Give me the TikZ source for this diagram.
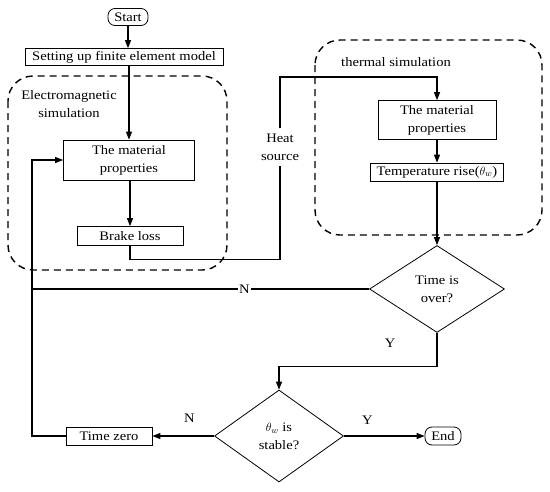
\documentclass[tikz,border=0pt]{standalone}
\usepackage{fontspec}
\setmainfont[FakeStretch=1.12]{Liberation Serif}
\usetikzlibrary{arrows.meta,shapes.geometric}

\begin{document}
\begin{tikzpicture}[x=1pt, y=-1pt,
  >={Stealth[length=8pt,width=6pt,inset=0pt]},
  font=\fontsize{13}{18}\selectfont,
  box/.style={draw, line width=0.8pt, inner sep=1pt, align=center},
  term/.style={box, rounded corners=7pt},
  decision/.style={diamond, draw, line width=0.8pt, inner sep=0pt, align=center},
  flow/.style={line width=1.1pt, ->},
  link/.style={line width=1.1pt},
  group/.style={line width=1.4pt, dash pattern=on 7pt off 5pt, rounded corners=25pt},
  lab/.style={inner sep=1pt, align=center},
]
  \useasboundingbox (0,0) rectangle (550,491);

  % --- simulation groups ---
  \draw[group] (8,76) rectangle (227,270);
  \draw[group] (315,40) rectangle (542,235);
  \node[lab] (emlab) at (69,104) {Electromagnetic\\simulation};
  \node[lab] (thlab) at (396,62) {thermal simulation};

  % --- blocks ---
  \node[term, minimum width=40pt, minimum height=17pt] (start) at (128,17) {Start};
  \node[box, minimum width=198pt, minimum height=17pt] (setup) at (124,57) {Setting up finite element model};
  \node[box, minimum width=131pt, minimum height=40pt] (matEM) at (129,160) {The material\\properties};
  \node[box, minimum width=106pt, minimum height=19pt] (brake) at (130,236) {Brake loss};
  \node[lab, inner ysep=5pt] (heat) at (280,147) {Heat\\source};
  \node[box, minimum width=118pt, minimum height=39pt] (matTh) at (437,120) {The material\\properties};
  \node[box, minimum width=133pt, minimum height=18pt] (temp) at (437,172) {Temperature rise($\theta_w$)};
  \node[decision, minimum width=135pt, minimum height=87pt] (over) at (437,289) {Time is\\over?};
  \node[decision, minimum width=129pt, minimum height=92pt] (stable) at (279,436) {$\theta_w$ is\\stable?};
  \node[box, minimum width=86pt, minimum height=18pt] (zero) at (109,436) {Time zero};
  \node[term, minimum width=36pt, minimum height=18pt] (end) at (443,436) {End};

  \coordinate (hs) at (437,77);
  \coordinate (fb) at (32,289);

  % --- flow ---
  \draw[flow] (start.south) -- (start.south |- setup.north);
  \draw[flow] (setup.south -| matEM.north) -- (matEM.north);
  \draw[flow] (matEM.south -| brake.north) -- (brake.north);
  \draw[link] (brake.south) -- ++(0,14) -| (heat.south);
  \draw[flow] (heat.north) |- (hs) -- (matTh.north);
  \draw[flow] (matTh) -- (temp);
  \draw[flow] (temp) -- (over);
  \draw[link] (over.west) -- node[lab, pos=0.37, fill=white] {N} (fb);
  \draw[flow] (over.south) -- node[lab, pos=0.3, left=40pt] {Y} ++(0,34) -| (stable.north);
  \draw[flow] (stable.west) -- node[lab, pos=0.4, above=12pt] {N} (zero.east);
  \draw[flow] (stable.east) -- node[lab, pos=0.29, above=10pt] {Y} (end.west);
  \draw[flow] (zero.west) -| (fb) |- (matEM.west);

\end{tikzpicture}
\end{document}
